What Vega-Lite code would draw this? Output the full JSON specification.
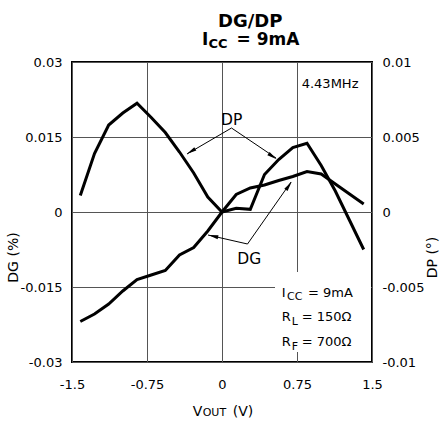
{
  "$schema": "https://vega.github.io/schema/vega-lite/v6.json",
  "width": 300,
  "height": 300,
  "autosize": {"type": "none"},
  "padding": {"left": 72, "top": 62, "right": 68, "bottom": 66},
  "background": "white",
  "config": {
    "view": {"stroke": "black", "strokeWidth": 2},
    "font": "DejaVu Sans",
    "axis": {"labelFont": "DejaVu Sans", "labelFontSize": 13, "labelColor": "black", "gridColor": "#555", "gridWidth": 1, "ticks": false, "domain": false, "labelFlush": false, "labelOverlap": false, "labelBound": false, "title": null},
    "text": {"font": "DejaVu Sans", "color": "black"}
  },
  "datasets": {
    "dg": [
      {"x": -1.417, "y": -0.0219}, {"x": -1.275, "y": -0.0204}, {"x": -1.133, "y": -0.0184}, {"x": -0.992, "y": -0.0158},
      {"x": -0.85, "y": -0.0135}, {"x": -0.708, "y": -0.0126}, {"x": -0.567, "y": -0.0117}, {"x": -0.425, "y": -0.0086},
      {"x": -0.283, "y": -0.0071}, {"x": -0.142, "y": -0.0038}, {"x": 0, "y": 0}, {"x": 0.142, "y": 0.0035},
      {"x": 0.283, "y": 0.0048}, {"x": 0.425, "y": 0.0054}, {"x": 0.567, "y": 0.0063}, {"x": 0.708, "y": 0.0071},
      {"x": 0.85, "y": 0.0081}, {"x": 0.992, "y": 0.0076}, {"x": 1.133, "y": 0.0056}, {"x": 1.275, "y": 0.0036},
      {"x": 1.417, "y": 0.0016}
    ],
    "dp": [
      {"x": -1.417, "dp": 0.0011}, {"x": -1.275, "dp": 0.0039}, {"x": -1.133, "dp": 0.0058}, {"x": -0.992, "dp": 0.0066},
      {"x": -0.85, "dp": 0.00725}, {"x": -0.708, "dp": 0.0063}, {"x": -0.567, "dp": 0.0053}, {"x": -0.425, "dp": 0.004},
      {"x": -0.283, "dp": 0.0026}, {"x": -0.142, "dp": 0.001}, {"x": 0, "dp": 0}, {"x": 0.142, "dp": 0.00025},
      {"x": 0.283, "dp": 0.00018}, {"x": 0.425, "dp": 0.0025}, {"x": 0.567, "dp": 0.0035}, {"x": 0.708, "dp": 0.0043},
      {"x": 0.85, "dp": 0.00458}, {"x": 0.992, "dp": 0.0031}, {"x": 1.133, "dp": 0.0014}, {"x": 1.275, "dp": -0.00055},
      {"x": 1.417, "dp": -0.0025}
    ],
    "box": [{"x": 0.53, "x2": 1.49, "y": -0.012, "y2": -0.028}],
    "arrows": [
      {"x": 0.095, "y": 0.0168, "x2": -0.35, "y2": 0.0116},
      {"x": 0.095, "y": 0.0168, "x2": 0.54, "y2": 0.0108},
      {"x": 0.255, "y": -0.0064, "x2": -0.14, "y2": -0.0046},
      {"x": 0.255, "y": -0.0064, "x2": 0.69, "y2": 0.006}
    ],
    "heads": [
      {"id": 1, "x": -0.31, "y": 0.01212},
      {"id": 2, "x": 0.506, "y": 0.0111},
      {"id": 3, "x": -0.088, "y": -0.00482},
      {"id": 4, "x": 0.668, "y": 0.00524}
    ],
    "notes": [
      {"r": "t1", "t": "DG/DP", "x": -0.04, "y": 0.0371},
      {"r": "t2", "t": "I", "x": -0.2, "y": 0.0335},
      {"r": "t2", "t": "= 9mA", "x": 0.145, "y": 0.0335},
      {"r": "t2s", "t": "CC", "x": -0.135, "y": 0.0328},
      {"r": "n", "t": "4.43MHz", "x": 0.797, "y": 0.02473},
      {"r": "n", "t": "I", "x": 0.597, "y": -0.01694},
      {"r": "n", "t": "= 9mA", "x": 0.86, "y": -0.01694},
      {"r": "n", "t": "R", "x": 0.597, "y": -0.02174},
      {"r": "n", "t": "= 150Ω", "x": 0.797, "y": -0.02174},
      {"r": "n", "t": "R", "x": 0.597, "y": -0.02674},
      {"r": "n", "t": "= 700Ω", "x": 0.797, "y": -0.02674},
      {"r": "s", "t": "CC", "x": 0.65, "y": -0.0176},
      {"r": "s", "t": "L", "x": 0.697, "y": -0.0226},
      {"r": "s", "t": "F", "x": 0.697, "y": -0.0276},
      {"r": "c", "t": "DP", "x": 0.097, "y": 0.0174},
      {"r": "c", "t": "DG", "x": 0.272, "y": -0.0103},
      {"r": "ax", "t": "V", "x": -0.293, "y": -0.0407},
      {"r": "ax", "t": "(V)", "x": 0.107, "y": -0.0407},
      {"r": "axs", "t": "OUT", "x": -0.193, "y": -0.0407},
      {"r": "yt", "t": "DG (%)", "x": -2.08, "y": -0.0091},
      {"r": "yt", "t": "DP (°)", "x": 2.105, "y": -0.0091}
    ]
  },
  "encoding": {
    "x": {
      "field": "x", "type": "quantitative",
      "scale": {"domain": [-1.5, 1.5], "nice": false, "zero": false},
      "axis": {"values": [-1.5, -0.75, 0, 0.75, 1.5], "grid": true, "labelPadding": 16, "labelExpr": "toString(datum.value)"}
    }
  },
  "layer": [
    {
      "encoding": {
        "y": {
          "field": "y", "type": "quantitative",
          "scale": {"domain": [-0.03, 0.03], "nice": false, "zero": false},
          "axis": {"values": [-0.03, -0.015, 0, 0.015, 0.03], "grid": true, "labelPadding": 10, "labelExpr": "toString(datum.value)"}
        }
      },
      "layer": [
        {"data": {"name": "dg"}, "mark": {"type": "line", "color": "black", "strokeWidth": 3}},
        {"data": {"name": "box"}, "mark": {"type": "rect", "color": "white"}, "encoding": {"x2": {"field": "x2"}, "y2": {"field": "y2"}}},
        {"data": {"name": "arrows"}, "mark": {"type": "rule", "color": "black", "strokeWidth": 1}, "encoding": {"x2": {"field": "x2"}, "y2": {"field": "y2"}}},
        {"data": {"name": "heads"}, "transform": [{"filter": "datum.id == 1"}], "mark": {"type": "point", "shape": "M0,-1L0.4,1L-0.4,1Z", "filled": true, "color": "black", "size": 100, "angle": 239.7, "opacity": 1}},
        {"data": {"name": "heads"}, "transform": [{"filter": "datum.id == 2"}], "mark": {"type": "point", "shape": "M0,-1L0.4,1L-0.4,1Z", "filled": true, "color": "black", "size": 100, "angle": 124, "opacity": 1}},
        {"data": {"name": "heads"}, "transform": [{"filter": "datum.id == 3"}], "mark": {"type": "point", "shape": "M0,-1L0.4,1L-0.4,1Z", "filled": true, "color": "black", "size": 100, "angle": 282.8, "opacity": 1}},
        {"data": {"name": "heads"}, "transform": [{"filter": "datum.id == 4"}], "mark": {"type": "point", "shape": "M0,-1L0.4,1L-0.4,1Z", "filled": true, "color": "black", "size": 100, "angle": 35, "opacity": 1}},
        {"data": {"name": "notes"}, "transform": [{"filter": "datum.r == 't1'"}], "mark": {"type": "text", "align": "left", "baseline": "alphabetic", "fontSize": 18, "fontWeight": "bold"}, "encoding": {"text": {"field": "t"}}},
        {"data": {"name": "notes"}, "transform": [{"filter": "datum.r == 't2'"}], "mark": {"type": "text", "align": "left", "baseline": "alphabetic", "fontSize": 17, "fontWeight": "bold"}, "encoding": {"text": {"field": "t"}}},
        {"data": {"name": "notes"}, "transform": [{"filter": "datum.r == 't2s'"}], "mark": {"type": "text", "align": "left", "baseline": "alphabetic", "fontSize": 13, "fontWeight": "bold"}, "encoding": {"text": {"field": "t"}}},
        {"data": {"name": "notes"}, "transform": [{"filter": "datum.r == 'n'"}], "mark": {"type": "text", "align": "left", "baseline": "alphabetic", "fontSize": 13}, "encoding": {"text": {"field": "t"}}},
        {"data": {"name": "notes"}, "transform": [{"filter": "datum.r == 's'"}], "mark": {"type": "text", "align": "left", "baseline": "alphabetic", "fontSize": 11}, "encoding": {"text": {"field": "t"}}},
        {"data": {"name": "notes"}, "transform": [{"filter": "datum.r == 'c'"}], "mark": {"type": "text", "align": "center", "baseline": "alphabetic", "fontSize": 15.5}, "encoding": {"text": {"field": "t"}}},
        {"data": {"name": "notes"}, "transform": [{"filter": "datum.r == 'ax'"}], "mark": {"type": "text", "align": "left", "baseline": "alphabetic", "fontSize": 14}, "encoding": {"text": {"field": "t"}}},
        {"data": {"name": "notes"}, "transform": [{"filter": "datum.r == 'axs'"}], "mark": {"type": "text", "align": "left", "baseline": "alphabetic", "fontSize": 11}, "encoding": {"text": {"field": "t"}}},
        {"data": {"name": "notes"}, "transform": [{"filter": "datum.r == 'yt'"}], "mark": {"type": "text", "align": "center", "baseline": "middle", "fontSize": 14, "angle": 270}, "encoding": {"text": {"field": "t"}}}
      ]
    },
    {
      "data": {"name": "dp"},
      "mark": {"type": "line", "color": "black", "strokeWidth": 3},
      "encoding": {
        "y": {
          "field": "dp", "type": "quantitative",
          "scale": {"domain": [-0.01, 0.01], "nice": false, "zero": false},
          "axis": {"orient": "right", "values": [-0.01, -0.005, 0, 0.005, 0.01], "grid": false, "labelPadding": 10, "labelExpr": "toString(datum.value)"}
        }
      }
    }
  ],
  "resolve": {"scale": {"y": "independent"}, "axis": {"y": "independent"}}
}
